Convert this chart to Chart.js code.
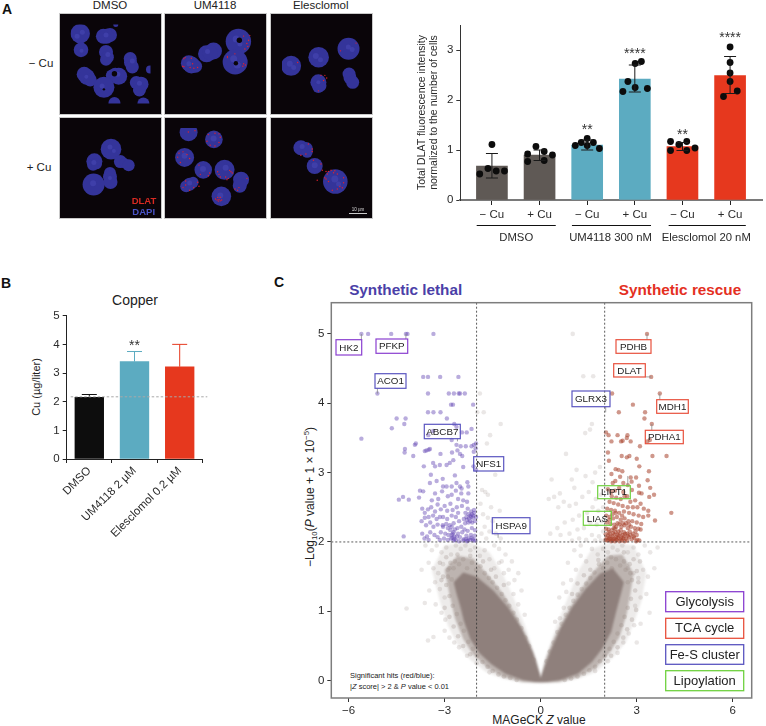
<!DOCTYPE html>
<html><head><meta charset="utf-8">
<script src="https://cdn.jsdelivr.net/npm/chart.js@4/dist/chart.umd.min.js"></script>
<style>
html,body{margin:0;padding:0;background:#fff;width:766px;height:726px;overflow:hidden;font-family:"Liberation Sans",Arial,sans-serif;color:#222}
canvas{position:absolute;display:block}
.t{position:absolute;white-space:nowrap;transform:translate(-50%,-50%);line-height:1}
.r{transform:translate(-50%,-50%) rotate(-90deg)}
.img{position:absolute;background:#0a0509;outline:1.5px solid #c9c9c9;overflow:hidden}
sub,sup{font-size:65%;line-height:0}
</style></head><body>
<script>
/* ===== Panel A bars ===== */
const dlatCategories=["− Cu","+ Cu","− Cu","+ Cu","− Cu","+ Cu"];
const dlatGroups=["DMSO","UM4118 300 nM","Elesclomol 20 nM"];
const dlatMeans=[0.68,0.90,1.10,2.42,1.07,2.49];
const dlatHigh=[0.93,1.00,1.20,2.70,1.15,2.87];
const dlatLow=[0.44,0.79,1.00,2.16,0.99,2.13];
const dlatStars=["","","**","****","**","****"];
const dlatStarValues=[0,0,1.45,2.98,1.35,3.30];
const dlatDots=[[-.256,.52,-.083,.63,.09,.58,.263,.58,0,1.11],
[-.25,.92,-.25,.77,-.076,1.07,.097,.97,.097,.79,.27,.9],
[-.25,1.09,-.125,1.15,0,1.23,0,1.09,.13,1.15,.256,1.03],
[-.25,2.17,-.145,2.37,.007,2.25,.007,2.73,.138,2.77,.263,2.23],
[-.25,1.17,-.25,.99,-.076,1.11,.09,1.17,.09,.99,.263,1.04],
[0,3.06,0,2.75,0,2.54,0,2.37,.15,2.18,-.138,2.07]];
/* ===== Panel B ===== */
const copperCategories=["DMSO","UM4118 2 µM","Elesclomol 0.2 µM"];
const copperMeans=[2.15,3.40,3.22];
const copperHigh=[2.25,3.75,4.0];
const copperStars=["","**",""];
const copperBaseline=2.17;
/* ===== Panel C ===== */
const cloudTop=[[-2.72,1.42],[-2.42,1.56],[-2.0,1.5],[-1.48,1.3],[-1.02,1.06],[-.6,.76],[-.25,.42],[-.03,.1],[0,0.03],[.04,.1],[.3,.42],[.62,.76],[.98,1.06],[1.4,1.32],[1.85,1.54],[2.25,1.62],[2.6,1.42]];
const cloudBottom=[[-2.72,1.42],[-2.62,1.24],[-2.5,1.05],[-2.4,.86],[-2.2,.6],[-1.92,.4],[-1.55,.24],[-1.1,.1],[-.56,.01],[-.18,-.02],[.19,-.02],[.62,.01],[1.16,.1],[1.6,.27],[1.92,.46],[2.2,.7],[2.36,1.0],[2.52,1.28],[2.6,1.42]];
const haloTop=[[-3.0,1.6],[-2.6,1.8],[-2.1,1.76],[-1.6,1.5],[-1.15,1.24],[-.75,.92],[-.42,.62],[-.14,.3],[0,.05],[.14,.3],[.42,.62],[.75,.92],[1.15,1.24],[1.55,1.52],[2.1,1.8],[2.55,1.82],[2.9,1.55]];
const haloBottom=[[-3.0,1.6],[-2.85,1.25],[-2.68,.9],[-2.42,.6],[-2.12,.38],[-1.65,.18],[-1.15,.05],[-.55,-.02],[0,-.03],[.55,-.02],[1.15,.05],[1.7,.18],[2.15,.4],[2.46,.63],[2.68,.95],[2.8,1.25],[2.9,1.55]];
const outerTop=[[-3.4,1.6],[-3.0,1.95],[-2.2,2.0],[-1.6,1.85],[-1.2,1.55],[-.85,1.2],[-.5,.8],[-.2,.4],[0,.05],[.2,.4],[.5,.8],[.85,1.2],[1.2,1.6],[1.6,1.9],[2.2,2.0],[2.9,1.95],[3.3,1.55]];
const outerBottom=[[-3.4,1.6],[-3.15,1.15],[-2.9,.8],[-2.6,.52],[-2.2,.3],[-1.7,.12],[-1.2,.03],[-.6,-.03],[0,-.04],[.6,-.03],[1.2,.03],[1.7,.12],[2.25,.33],[2.65,.55],[2.92,.85],[3.15,1.15],[3.3,1.55]];
const greyHits=[1.0,5,1.33,4.39,1.64,4.39,-1.9,4.14,-1.98,3.87,-1.78,3.87,-1.25,3.7,-1.58,3.54,-1.68,3.42,1.6,3.7,1.54,3.62,1.39,3.57,.79,3.27,1.12,3.04,.34,2.9,.97,2.9,.6,2.7,1.05,2.78,1.4,2.95,1.7,3.0,1.85,3.08,1.62,2.86,-1.42,2.97,-1.83,2.75,-1.73,2.72,-1.65,2.68,-1.88,2.55,-1.55,2.5,-1.28,2.45,-1.8,2.4,-1.65,2.35,-1.5,2.3,-1.75,2.22,-1.6,2.15,-1.4,2.12,-1.85,2.12,-1.7,2.05,-1.25,2.05,
.25,2.62,.42,2.65,.55,2.5,.72,2.58,.9,2.52,1.1,2.55,1.3,2.65,1.5,2.72,1.72,2.62,1.88,2.68,1.95,2.5,1.8,2.45,1.62,2.5,1.45,2.42,1.2,2.38,1.0,2.32,.75,2.28,.52,2.2,.3,2.12,.62,2.1,.9,2.12,1.15,2.18,1.35,2.2,1.55,2.28,1.75,2.25,1.9,2.3,1.95,2.15,1.82,2.08,1.6,2.1,1.42,2.03,1.2,2.05,1.88,2.02,1.7,2.02,.98,2.02,
-3.6,1.95,-3.4,1.88,-3.25,1.95,-3.1,1.85,-2.95,1.92,-2.8,1.82,-2.65,1.95,-2.5,1.9,-2.35,1.95,-2.2,1.88,-2.05,1.92,-1.9,1.8,-1.75,1.88,-1.6,1.75,-1.45,1.62,-1.3,1.7,-1.15,1.55,-1.0,1.4,-3.72,1.6,-3.5,1.7,-3.35,1.62,-3.2,1.55,-3.05,1.68,-2.9,1.6,-3.3,1.42,-3.15,1.32,-3.48,1.3,-3.0,1.2,-3.62,1.12,-4.19,1.04,-3.28,1.1,-3.1,.98,-2.98,.88,-3.35,.63,-3.0,.72,-2.85,.62,-2.7,.55,-2.55,.48,-3.52,.58,-2.3,.36,-2.0,.25,-1.6,.12,
-.85,1.25,-.7,1.1,-.6,1.3,-.5,.95,-1.3,1.9,-1.1,1.82,-.9,1.72,-.7,1.55,-1.45,1.95,-1.22,1.72,-1.0,1.6,-.82,1.45,
3.65,1.92,3.42,1.85,3.25,1.95,3.05,1.82,2.9,1.92,2.72,1.85,2.55,1.95,2.4,1.88,2.25,1.92,2.1,1.85,1.95,1.9,1.78,1.82,1.6,1.9,1.42,1.72,1.25,1.8,1.1,1.6,.95,1.45,.8,1.28,3.55,1.62,3.35,1.5,3.2,1.6,3.05,1.48,2.9,1.55,2.72,1.62,3.3,1.25,3.12,1.2,2.95,1.08,3.4,.98,3.12,.82,2.92,.8,2.75,.68,2.58,.55,3.0,.55,2.4,.4,2.1,.28,1.7,.14,.72,1.05,.6,.9,.85,1.7,1.05,1.88,1.25,1.95,.7,1.4,.58,1.2,.45,.85];
const greyFringe=[-2.95,1.78,-2.82,1.7,-2.72,1.62,-2.9,1.5,-2.78,1.46,-2.68,1.72,-2.55,1.68,-2.42,1.75,-2.3,1.62,-2.15,1.7,-2.02,1.6,-1.88,1.65,-1.75,1.55,-1.62,1.48,-1.5,1.42,-1.36,1.34,-1.22,1.25,-1.1,1.16,-.98,1.08,-.85,.98,-.74,.88,-.6,.76,-.48,.62,-.36,.5,-.22,.3,
-2.95,1.38,-2.85,1.22,-2.75,1.08,-2.62,.96,-2.5,.82,-2.4,.72,-2.26,.56,-2.12,.46,-1.98,.36,-1.82,.27,-1.66,.2,-1.5,.14,-1.32,.09,-1.15,.06,-.95,.04,-.75,.01,-3.1,1.45,-3.0,1.05,-2.85,.92,-2.72,.78,-2.58,.64,-2.42,.5,-2.2,.38,
2.9,1.75,2.78,1.68,2.65,1.6,2.85,1.45,2.72,1.42,2.6,1.72,2.48,1.66,2.35,1.75,2.22,1.62,2.08,1.7,1.95,1.62,1.82,1.68,1.68,1.56,1.55,1.48,1.42,1.4,1.28,1.32,1.15,1.24,1.02,1.15,.9,1.05,.78,.95,.65,.82,.52,.7,.4,.55,.28,.42,.18,.28,
2.95,1.3,2.82,1.18,2.72,1.05,2.62,.92,2.52,.8,2.4,.68,2.28,.56,2.15,.46,2.0,.36,1.85,.28,1.7,.2,1.52,.15,1.35,.1,1.15,.06,.95,.03,.75,.01,3.05,1.42,2.98,1.02,2.85,.88,2.7,.74,2.58,.62,2.4,.48,2.2,.36,
-3.15,1.7,-3.05,1.5,-2.85,1.62,-2.6,1.82,-2.2,1.8,-1.8,1.72,-1.55,1.6,-1.4,1.5,-1.15,1.38,2.6,1.85,2.2,1.78,1.8,1.74,1.55,1.6,1.35,1.52,1.15,1.4,.98,1.25,3.1,1.72,3.0,1.58,2.8,1.55];
const lethalHits=[-5.6,5,-5.39,5,-4.67,5,-4.21,5,-4.16,5,-3.35,5,-5.1,4.14,-3.67,4.38,-3.52,4.38,-3.14,4.38,-2.57,4.38,-3.52,4.14,-2.87,4.14,-2.71,4.14,-2.56,4.14,-2.52,4.14,-2.37,4.14,-2.8,3.98,-2.74,3.98,-2.11,3.98,-3.52,3.87,-3.35,3.87,-3.13,3.87,-4.5,3.78,-4.22,3.78,-4.26,3.7,-4.65,3.64,-5.6,3.49,-2.93,3.78,-3.93,3.4,-3.9,3.42,-4.24,3.34,-4.25,3.29,-3.98,3.24,-3.62,3.31,-3.57,3.32,-3.46,3.34,-3.5,3.33,-3.13,3.27,-2.77,3.29,-2.6,3.32,-2.52,3.27,-2.45,3.24,-3.51,3.54,-3.36,3.6,-2.7,3.7,-2.63,3.66,-2.31,3.58,-2.16,3.63,-2.46,3.58,-2.78,3.47,-2.63,3.4,-2.5,3.38,-2.34,3.38,-2.16,3.38,-2.09,3.4,-2.02,3.42,-2.09,3.3,-2.03,3.35,
-3.65,3.09,-3.36,3.14,-3.3,3.09,-3.15,3.11,-2.94,3.11,-2.84,3.14,-2.73,3.18,-2.42,3.08,-2.1,3.09,-2.02,3.04,-3.43,2.97,-3.06,2.91,-3.25,2.88,-3.46,2.85,-2.68,2.96,-2.63,2.85,-2.78,2.8,-2.94,2.8,-3.05,2.8,-2.29,2.86,-2.26,2.8,-2.52,2.8,-2.47,2.77,-2.26,2.7,-2.48,2.7,-3.77,2.74,-3.67,2.73,-4.43,2.61,-4.3,2.65,-4.12,2.61,-3.8,2.64,-3.4,2.6,-3.3,2.7,-3.2,2.62,-3.08,2.73,-2.9,2.66,-2.78,2.68,-2.65,2.74,-2.58,2.62,-2.42,2.6,-2.3,2.58,
-3.7,2.48,-3.62,2.42,-3.52,2.47,-3.42,2.5,-3.3,2.44,-3.22,2.54,-3.12,2.47,-3.0,2.52,-2.92,2.45,-2.82,2.55,-2.75,2.46,-2.62,2.5,-2.58,2.42,-2.46,2.52,-2.35,2.42,-2.28,2.48,-2.17,2.44,-2.08,2.46,-2.1,2.38,-2.18,2.36,-2.24,2.34,-2.32,2.36,-2.4,2.33,-2.05,2.3,-2.14,2.28,-2.26,2.28,-2.36,2.27,-2.55,2.3,-2.65,2.36,-2.78,2.38,-2.92,2.33,-3.05,2.36,-3.15,2.36,-3.25,2.33,-3.36,2.38,-3.5,2.36,-3.62,2.35,-3.72,2.3,-3.58,2.24,-3.45,2.28,-3.35,2.22,-3.22,2.25,-3.05,2.22,-2.95,2.26,-2.9,2.2,-2.82,2.17,-2.72,2.27,-2.68,2.18,-2.6,2.2,-2.48,2.22,-2.38,2.18,-2.28,2.16,-2.15,2.2,-2.05,2.17,
-4.28,2.08,-3.7,2.12,-3.63,2.05,-3.55,2.08,-3.45,2.14,-3.32,2.1,-3.22,2.07,-3.12,2.14,-3.02,2.05,-2.98,2.12,-2.88,2.1,-2.8,2.05,-2.75,2.12,-2.7,2.08,-2.65,2.03,-2.58,2.12,-2.52,2.07,-2.45,2.14,-2.4,2.04,-2.32,2.09,-2.25,2.05,-2.18,2.1,-2.12,2.04,-2.06,2.09,-2.04,2.02,-2.72,2.02,-2.9,2.03,-3.15,2.03,-3.5,2.03,-2.55,2.01,-2.3,2.01,
-2.2,2.38,-2.15,2.4,-2.12,2.35,-2.25,2.4,-2.3,2.32,-2.2,2.3,-2.08,2.42,-2.02,2.36,-2.76,2.06,-2.7,2.04,-2.62,2.08,-2.78,2.1,-2.72,2.14,-2.84,2.24,-2.78,2.22,-3.06,2.24,-2.42,2.02,-2.34,2.04,-2.28,2.02,-2.2,2.03,-2.16,2.06,-2.1,2.02];
const rescueHits=[2.23,4.14,2.88,3.98,2.44,3.87,3.26,3.87,3.24,3.78,3.72,4.14,3.32,5,3.45,4.38,3.47,3.7,2.04,3.58,2.12,3.54,2.4,3.54,2.71,3.54,2.69,3.5,2.21,3.45,2.51,3.45,2.56,3.46,2.81,3.45,3.1,3.38,3.33,3.45,3.41,3.47,2.1,3.29,2.53,3.24,2.69,3.22,2.77,3.24,3.0,3.2,3.49,3.24,3.93,3.24,2.13,3.17,3.08,3.09,2.34,3.05,2.43,3.04,2.55,3.02,2.21,2.98,3.38,3.02,2.48,2.94,2.81,2.93,2.98,2.93,2.84,2.87,3.34,2.89,2.33,2.88,2.25,2.85,2.58,2.85,3.07,2.81,3.42,2.78,4.08,2.42,3.57,2.31,3.36,2.45,3.54,2.68,3.39,2.65,3.07,2.71,3.15,2.7,2.72,2.82,
2.1,2.76,2.2,2.72,2.32,2.74,2.45,2.78,2.58,2.72,2.7,2.66,2.85,2.75,2.22,2.66,2.36,2.64,2.5,2.62,2.62,2.66,2.8,2.58,2.95,2.6,3.12,2.55,2.15,2.58,2.28,2.56,2.42,2.54,2.56,2.52,2.72,2.5,2.88,2.5,3.02,2.5,3.22,2.48,2.08,2.48,2.2,2.46,2.32,2.45,2.45,2.42,2.6,2.44,2.76,2.42,2.9,2.4,3.06,2.38,3.2,2.36,3.36,2.38,2.05,2.38,2.16,2.36,2.26,2.34,2.38,2.36,2.5,2.32,2.62,2.34,2.74,2.3,2.86,2.3,3.0,2.28,3.14,2.26,2.07,2.28,2.18,2.26,2.3,2.25,2.4,2.27,2.52,2.22,2.62,2.24,2.72,2.2,2.82,2.22,2.94,2.2,3.05,2.19,3.12,2.18,2.04,2.19,2.12,2.18,2.22,2.17,2.32,2.19,2.42,2.15,2.5,2.17,2.6,2.14,2.7,2.12,2.78,2.15,2.88,2.12,3.0,2.1,
2.03,2.11,2.1,2.09,2.16,2.12,2.24,2.08,2.3,2.11,2.36,2.07,2.44,2.09,2.52,2.06,2.6,2.08,2.66,2.05,2.76,2.07,2.84,2.04,2.92,2.06,3.02,2.03,2.02,2.03,2.08,2.02,2.14,2.05,2.2,2.01,2.26,2.04,2.32,2.01,2.38,2.03,2.46,2.01,2.54,2.02,2.62,2.01,2.7,2.02,2.98,2.01,3.08,2.02,
2.12,2.14,2.18,2.08,2.26,2.13,2.34,2.14,2.4,2.1,2.48,2.12,2.56,2.1,2.64,2.12,2.72,2.09,2.8,2.1,2.9,2.08,2.96,2.15,2.06,2.06,2.12,2.03,2.18,2.04,2.24,2.02,2.3,2.05,2.36,2.04,2.42,2.06,2.5,2.04,2.58,2.05,2.28,2.2,2.36,2.22,2.46,2.26,2.56,2.27,2.66,2.27,2.76,2.25,2.14,2.32,2.24,2.4,2.34,2.42,2.54,2.38];
const geneNames=["HK2","PFKP","ACO1","ABCB7","NFS1","HSPA9","GLRX3","PDHB","DLAT","MDH1","PDHA1","LIPT1","LIAS"];
const geneZ=[-5.6,-4.21,-5.1,-2.6,-1.98,-1.33,2.03,3.32,3.45,3.72,3.47,2.72,2.2];
const geneLogP=[5,5,4.14,3.45,3.29,2.06,3.87,5,4.38,4.14,3.7,2.95,2.3];
const legendNames=["Glycolysis","TCA cycle","Fe-S cluster","Lipoylation"];
/* ===== Panel A micrographs (coordinates on the image, 0-304) ===== */
const nucleiA=[
 [[37,35,9.7],[125,45,7.5],[150,40,7],[137,45,7.5],[40,97,7.3],[135,105,7],[140,125,6.5],[135,135,6],[227,130,6.5],[228,145,6.5],[235,162,6.5],[52,190,7.5],[62,200,8],[75,212,6.5],[157,195,6],[170,190,6.5],[183,198,8.5],[127,240,10.5],[250,222,6.5],[268,228,7.5],[262,250,6.5],[167,300,6],[277,302,6],[302,172,4],[172,0,2.5]],
 [[244,60,12.7],[116,110,8.5],[144,98,8.5],[130,105,7.5],[231,143,12.5],[45,148,8],[55,155,8.5],[72,160,6.5]],
 [[256,92,11],[141,125,10.3],[35,158,10],[140,222,8],[140,240,6],[148,235,6],[258,190,6.5],[262,205,6.5],[272,222,6.5]],
 [[154,78,10.3],[90,125,8],[85,138,6],[98,135,5.5],[190,126,6.5],[205,132,5],[222,140,6],[150,170,6],[150,185,7],[152,205,7],[87,215,11]],
 [[51,16,9],[146,43,8.8],[36,111,9.5],[106,158,8.8],[186,158,10],[248,195,8],[243,218,7],[68,205,5.5],[55,212,6.5],[42,220,6],[174,258,9.8]],
 [[70,70,7.5],[90,75,7],[95,88,5.5],[125,143,8],[207,205,12.3]]];
const nucleiSpotsA=[
 [[25,45,2.5],[45,30,2.5],[135,40,2.5],[42,100,2],[142,115,2.5],[235,140,2.5],[60,200,2],[180,190,2.5],[120,235,2.5],[262,225,2.5]],
 [[235,50,3.5],[250,70,2.5],[120,100,2.5],[225,130,3.5],[240,155,3.5],[45,150,2.5]],
 [[255,85,2.5],[270,95,2.5],[130,120,3],[148,135,2.5],[30,150,3],[45,165,2.5],[140,222,2]],
 [[150,70,2.5],[165,85,2],[88,130,2.5],[85,210,3],[150,190,2]],
 [[145,40,3],[36,105,3],[105,155,3],[190,150,3],[170,255,3],[55,208,2.5]],
 [[75,65,2.5],[125,140,3],[205,195,3.5],[220,215,2.5]]];
const nucleiHolesA=[[[167,188,2.7],[127,248,1.2]],[[248,55,2.7],[234,148,2.2]],[],[],[],[]];
const dlatSpotsA=[[],
 [[25,130],[30,125],[55,128],[20,160],[25,162],[50,165],[65,168],[80,165],[60,150],[265,38],[290,35],[278,68],[282,80],[270,90],[285,55],[200,120],[230,110],[265,150],[272,155],[262,160],[200,125]],
 [[60,145],[165,195],[172,205],[160,215],[150,195],[140,255],[225,100],[285,70]],
 [],
 [[125,25],[150,20],[165,22],[170,35],[120,50],[132,65],[150,68],[165,55],[15,95],[10,110],[20,130],[55,115],[45,100],[30,90],[160,165],[165,175],[190,185],[210,165],[215,170],[200,190],[205,160],[170,185],[195,195],[90,140],[130,170],[125,180],[95,175],[40,200],[85,205],[90,220],[70,225],[55,235],[40,215],[30,225],[225,230],[235,235],[270,190],[240,225],[165,270],[158,272],[170,275],[175,272],[160,262],[170,262],[152,268],[163,276],[50,15],[75,10]],
 [[170,165],[180,165],[190,160],[175,175],[200,170],[215,175],[205,162],[240,190],[240,210],[135,200],[170,195],[180,205],[225,225],[235,230],[195,240],[215,235],[165,190],[120,120],[150,135],[155,160],[100,55],[115,75],[115,85],[90,95],[70,100]]];

/* ===== helpers ===== */
Chart.defaults.font.family='"Liberation Sans",Arial,sans-serif';
Chart.defaults.color='#2a2a2a';
function pairs(a){const o=[];for(let i=0;i<a.length;i+=2)o.push({x:a[i],y:a[i+1]});return o}
function xy(a){return a.map(p=>({x:p[0],y:p[1]}))}
function mk(parent,l,t,w,h,cfg){const c=document.createElement('canvas');c.width=w;c.height=h;c.style.left=l+'px';c.style.top=t+'px';c.style.width=w+'px';c.style.height=h+'px';parent.appendChild(c);
 cfg.options=Object.assign({responsive:false,animation:false,devicePixelRatio:1,events:[]},cfg.options);return new Chart(c,cfg)}
function txt(html,cx,cy,style,rot){const d=document.createElement('div');d.className='t'+(rot?' r':'');d.innerHTML=html;d.style.left=cx+'px';d.style.top=cy+'px';d.style.cssText+=';'+(style||'');document.body.appendChild(d);return d}
function fixY(w){return s=>{s.width=w;s.paddingTop=s.paddingBottom=s.paddingLeft=s.paddingRight=0}}
function fixX(h){return s=>{s.height=h;s.paddingTop=s.paddingBottom=s.paddingLeft=s.paddingRight=0}}
const noLegend={legend:{display:false},tooltip:{enabled:false}};

/* ----- panel letters and A labels ----- */
txt('A',7,9,'font:bold 14px "Liberation Sans";color:#111');
txt('B',6,283,'font:bold 14px "Liberation Sans";color:#111');
txt('C',279,282,'font:bold 14px "Liberation Sans";color:#111');
["DMSO","UM4118","Elesclomol"].forEach((s,i)=>txt(s,[110,215,320.7][i],5,'font:11.5px "Liberation Sans"'));
txt('− Cu',41,63,'font:11.5px "Liberation Sans"');txt('+ Cu',39,167,'font:11.5px "Liberation Sans"');

/* ----- micrographs ----- */
const imgX=[59.5,165,270.5],imgY=[13.5,117.5];
[0,1,2,3,4,5].forEach(i=>{
 const box=document.createElement('div');box.className='img';
 const L=imgX[i%3],T=imgY[i<3?0:1];
 box.style.cssText=`left:${L}px;top:${T}px;width:101px;height:100px`;document.body.appendChild(box);
 const bub=a=>a.map(p=>({x:p[0],y:p[1],r:p[2]}));
 const c=mk(box,0,0,101,100,{type:'bubble',data:{datasets:[
   {data:dlatSpotsA[i].map(p=>({x:p[0],y:p[1],r:.7})),backgroundColor:'#e3202c',borderWidth:0,order:1},
   {data:bub(nucleiHolesA[i]),backgroundColor:'#0a0509',borderWidth:0,order:2},
   {data:bub(nucleiSpotsA[i]),backgroundColor:'rgba(95,95,215,.25)',borderWidth:0,order:3},
   {data:bub(nucleiA[i]),backgroundColor:'#34349a',borderWidth:0,order:4}]},
  options:{layout:{padding:0},plugins:noLegend,scales:{x:{display:false,min:0,max:304},y:{display:false,reverse:true,min:0,max:302}}}});
 c.canvas.style.filter='blur(0.7px)';
});
txt('DLAT',144,200,'font:bold 9.5px "Liberation Sans";color:#d92a22');
txt('DAPI',143.7,211,'font:bold 9.5px "Liberation Sans";color:#4a55c8');
txt('10 µm',358,209,'font:4.5px "Liberation Sans";color:#ddd');
const sb=document.createElement('div');sb.style.cssText='position:absolute;left:349px;top:213px;width:18px;height:1px;background:#ccc';document.body.appendChild(sb);

/* ----- A bars ----- */
const barColors=['#5f5955','#5f5955','#5cabc1','#5cabc1','#e6381e','#e6381e'];
const dlatDotPts=[];dlatDots.forEach((g,i)=>{for(let j=0;j<g.length;j+=2)dlatDotPts.push({x:i+1+g[j],y:g[j+1]})});
const aOverlay={id:'aOverlay',afterDatasetsDraw(ch){const c=ch.ctx,X=ch.scales.x,Y=ch.scales.y;c.save();c.strokeStyle='#1a1a1a';c.lineWidth=1;
  dlatMeans.forEach((m,i)=>{const x=X.getPixelForValue(i+1),hi=Y.getPixelForValue(dlatHigh[i]),lo=Y.getPixelForValue(dlatLow[i]);c.beginPath();c.moveTo(x,hi);c.lineTo(x,lo);c.moveTo(x-6,hi);c.lineTo(x+6,hi);c.moveTo(x-6,lo);c.lineTo(x+6,lo);c.stroke();
   if(dlatStars[i]){c.fillStyle='#333';c.font='14px "Liberation Sans"';c.textAlign='center';c.textBaseline='middle';c.fillText(dlatStars[i],x,Y.getPixelForValue(dlatStarValues[i])+3)}});
  [[.68,2.34],[2.68,4.34],[4.71,6.33]].forEach((g,i)=>{const a=X.getPixelForValue(g[0]),b=X.getPixelForValue(g[1]);c.strokeStyle='#111';c.beginPath();c.moveTo(a,225.5);c.lineTo(b,225.5);c.stroke();
   c.fillStyle='#2a2a2a';c.font='11.3px "Liberation Sans"';c.textAlign='center';c.textBaseline='middle';c.fillText(dlatGroups[i],(a+b)/2-(i==0?0:1),237.5)});
  c.restore()}};
mk(document.body,400,0,366,250,{type:'bar',data:{datasets:[
  {type:'scatter',data:dlatDotPts,backgroundColor:'#0c0c0c',pointRadius:3.4,borderWidth:0,order:1},
  {type:'bar',data:dlatMeans.map((v,i)=>({x:i+1,y:v})),backgroundColor:barColors,barThickness:31,order:2}]},
 plugins:[aOverlay],options:{layout:{padding:{top:25,right:.3}},plugins:noLegend,
  scales:{x:{type:'linear',offset:false,min:.336,max:6.67,afterFit:fixX(50),border:{color:'#7a7a7a',width:2},grid:{offset:false,drawOnChartArea:false,color:'#222',tickLength:5},
     ticks:{stepSize:1,includeBounds:false,maxRotation:0,autoSkip:false,padding:3,font:{size:11.5},callback:v=>dlatCategories[v-1]}},
   y:{min:0,max:3.5,afterFit:fixY(60.3),border:{color:'#333',width:1},grid:{drawOnChartArea:false,color:'#333',tickLength:4},
     ticks:{stepSize:1,includeBounds:false,padding:3,font:{size:11.5}},
     title:{display:true,text:['Total DLAT fluorescence intensity','normalized to the number of cells'],font:{size:10.5},padding:{top:15.5,bottom:0},color:'#2a2a2a'}}}}});

/* ----- B ----- */
txt('Copper',135,300,'font:14px "Liberation Sans"');
txt('Cu (µg/liter)',36,386.7,'font:11px "Liberation Sans"',true);
const bOverlay={id:'bOverlay',afterDatasetsDraw(ch){const c=ch.ctx,X=ch.scales.x,Y=ch.scales.y;c.save();
  copperMeans.forEach((m,i)=>{const x=X.getPixelForValue(i),t=Y.getPixelForValue(m),h=Y.getPixelForValue(copperHigh[i]);c.strokeStyle=['#111','#5cabc1','#e6381e'][i];c.lineWidth=1;c.beginPath();c.moveTo(x,t);c.lineTo(x,h);c.moveTo(x-7.5,h);c.lineTo(x+7.5,h);c.stroke();
   if(copperStars[i]){c.fillStyle='#333';c.font='14px "Liberation Sans"';c.textAlign='center';c.textBaseline='middle';c.fillText(copperStars[i],x,h-5)}});
  const y=Y.getPixelForValue(copperBaseline);c.strokeStyle='#a9a9a9';c.setLineDash([2.5,2]);c.lineWidth=1;c.beginPath();c.moveTo(ch.chartArea.left+4,y);c.lineTo(ch.chartArea.right+5,y);c.stroke();c.restore()}};
mk(document.body,0,305,230,240,{type:'bar',data:{labels:copperCategories,datasets:[{data:copperMeans,backgroundColor:['#0d0d0d','#5cabc1','#e6381e'],barThickness:28.7}]},
 plugins:[bOverlay],options:{layout:{padding:{top:10.7,right:27.7}},plugins:noLegend,
  scales:{x:{afterFit:fixX(86),border:{color:'#222',width:1},grid:{drawOnChartArea:false,color:'#222',tickLength:4},ticks:{maxRotation:45,minRotation:45,autoSkip:false,padding:1,font:{size:11.5}}},
   y:{min:0,max:5,afterFit:fixY(66.7),border:{color:'#222',width:1},grid:{drawOnChartArea:false,color:'#222',tickLength:4},ticks:{stepSize:1,padding:3,font:{size:11.5}}}}}});

/* ----- C volcano ----- */
txt('Synthetic lethal',405.7,290,'font:bold 15.3px "Liberation Sans";color:#4b3fa8');
txt('Synthetic rescue',680,290,'font:bold 15.3px "Liberation Sans";color:#e4301f');
txt('−Log<sub>10</sub>(<i>P</i> value + 1 × 10<sup>−5</sup>)',310,497,'font:12px "Liberation Sans"',true);
txt('MAGeCK <i>Z</i> value',539,720,'font:12px "Liberation Sans"');
txt('Significant hits (red/blue):',350,674.5,'font:7.5px "Liberation Sans";transform:translateY(-50%)');
txt('|<i>Z</i> score| &gt; 2 &amp; <i>P</i> value &lt; 0.01',350,686,'font:7.5px "Liberation Sans";transform:translateY(-50%)');
const OX=270,OY=295;
const purple='#8a3fd0',red='#e8503c',blue='#5a55c0',green='#6fd13f';
const geneBoxes=[[336,339.7,361.7,355,purple],[376,339,407.7,353.3,purple],[375,373.7,406,388.3,blue],[424.3,424.3,460.3,438.7,blue],[473.7,456.7,503.7,471,blue],[492.3,517.7,530,533.7,blue],[572,391,610,406.7,blue],[616,339.7,651,353.3,red],[613.7,363.7,645.3,377,red],[656.7,399.7,688.3,413.3,red],[645.3,430.3,683.3,443.7,red],[597.7,485.7,630.3,498.7,green],[583.3,511.3,611.3,525.3,green]];
const legendBoxes=[[665.7,591.7,743.7,611.7,purple],[665.7,618.3,743.7,638.3,red],[665.7,644.7,743.7,664.3,blue],[665.7,670.7,743.7,690.7,green]];
const cOverlay={id:'cOverlay',afterDatasetsDraw(ch){const c=ch.ctx,X=ch.scales.x,Y=ch.scales.y,A=ch.chartArea;c.save();
  c.strokeStyle='#333';c.lineWidth=.8;c.setLineDash([2,2]);
  [-2,2].forEach(v=>{const x=X.getPixelForValue(v);c.beginPath();c.moveTo(x,A.top);c.lineTo(x,A.bottom);c.stroke()});
  const y2=Y.getPixelForValue(2);c.beginPath();c.moveTo(A.left,y2);c.lineTo(A.right,y2);c.stroke();c.setLineDash([]);
  c.strokeStyle='#7d7d7d';c.lineWidth=1.5;c.strokeRect(A.left,A.top,A.right-A.left,A.bottom-A.top);
  c.font='9.8px "Liberation Sans"';c.textAlign='center';c.textBaseline='middle';
  geneNames.forEach((n,i)=>{const b=geneBoxes[i],l=b[0]-OX,t=b[1]-OY,r=b[2]-OX,u=b[3]-OY,px=X.getPixelForValue(geneZ[i]),py=Y.getPixelForValue(geneLogP[i]);
    const qx=Math.max(l,Math.min(r,px)),qy=Math.max(t,Math.min(u,py));
    c.strokeStyle='#8a8a8a';c.lineWidth=.8;c.beginPath();c.moveTo(px,py);c.lineTo(qx,qy);c.stroke();
    c.strokeStyle=b[4];c.lineWidth=1.2;c.strokeRect(l,t,r-l,u-t);c.fillStyle='#1c1c1c';c.fillText(n,(l+r)/2,(t+u)/2+.5)});
  c.font='13px "Liberation Sans"';
  legendNames.forEach((n,i)=>{const b=legendBoxes[i],l=b[0]-OX,t=b[1]-OY,r=b[2]-OX,u=b[3]-OY;c.strokeStyle=b[4];c.lineWidth=1.3;c.strokeRect(l,t,r-l,u-t);c.fillStyle='#222';c.fillText(n,(l+r)/2,(t+u)/2+.5)});
  c.restore()}};
const fillLine=(a,bg)=>({type:'line',data:xy(a),borderWidth:0,pointRadius:0,tension:0,fill:bg?'+1':false,backgroundColor:bg||'transparent'});
const xC={type:'linear',min:-6.54,max:6.59,afterFit:fixX(28)},yC={min:-.25,max:5.45,afterFit:fixY(61.3)};
/* blurred density layer under the points */
const under=mk(document.body,OX,OY,496,431,{type:'line',data:{datasets:[
  Object.assign(fillLine(cloudTop,'#8f807c'),{order:1}),Object.assign(fillLine(cloudBottom),{order:2}),
  Object.assign(fillLine(haloTop,'rgba(150,135,130,.55)'),{order:3}),Object.assign(fillLine(haloBottom),{order:4}),
  Object.assign(fillLine(outerTop,'rgba(150,135,130,.17)'),{order:5}),Object.assign(fillLine(outerBottom),{order:6})]},
 options:{layout:{padding:{top:7.7,right:14.3}},plugins:Object.assign({filler:{propagate:false}},noLegend),
  scales:{x:Object.assign({border:{display:false},grid:{display:false},ticks:{display:false,stepSize:3}},xC),y:Object.assign({border:{display:false},grid:{display:false},ticks:{display:false,stepSize:1}},yC)}}});
under.canvas.style.filter='blur(1px)';
mk(document.body,OX,OY,496,431,{type:'scatter',data:{datasets:[
  {order:1,data:pairs(rescueHits),backgroundColor:'rgba(168,66,44,.55)',pointRadius:2.2,borderWidth:0},
  {order:2,data:pairs(lethalHits),backgroundColor:'rgba(100,72,180,.45)',pointRadius:2.2,borderWidth:0},
  {order:3,data:pairs(greyHits),backgroundColor:'rgba(150,135,130,.2)',pointRadius:2.3,borderWidth:0},
  {order:4,data:pairs(greyFringe),backgroundColor:'rgba(150,135,130,.28)',pointRadius:2.3,borderWidth:0}]},
 plugins:[cOverlay],options:{layout:{padding:{top:7.7,right:14.3}},plugins:noLegend,
  scales:{x:Object.assign({border:{display:false},grid:{drawOnChartArea:false,color:'#333',tickLength:4},ticks:{stepSize:3,includeBounds:false,padding:2,font:{size:11.5},callback:v=>String(v).replace('-','−')}},xC),
   y:Object.assign({border:{display:false},grid:{drawOnChartArea:false,color:'#333',tickLength:4},ticks:{stepSize:1,includeBounds:false,padding:3,font:{size:11.5}}},yC)}}});
</script></body></html>
